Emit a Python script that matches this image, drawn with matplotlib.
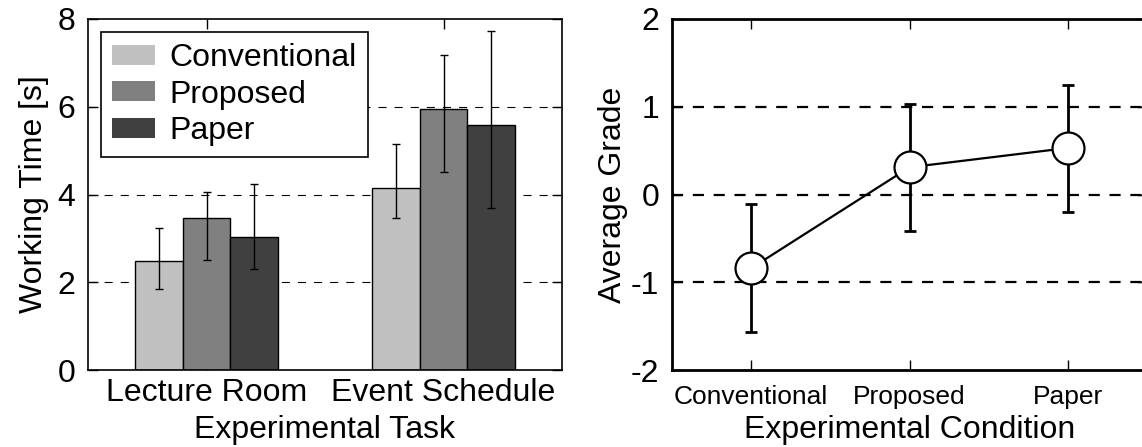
import numpy as np
import matplotlib as mpl
import matplotlib.pyplot as plt
from matplotlib.patches import Patch

mpl.rcParams.update({
    "font.family": ["Liberation Sans", "DejaVu Sans"],
    "lines.scale_dashes": False,
    "axes.unicode_minus": False,
    "xtick.direction": "in",
    "ytick.direction": "in",
})

# left panel: working time per task
tasks = ["Lecture Room", "Event Schedule"]
methods = ["Conventional", "Proposed", "Paper"]
work_mean = {
    "Conventional": [2.49, 4.15],
    "Proposed": [3.47, 5.95],
    "Paper": [3.02, 5.58],
}
work_lo = {
    "Conventional": [1.85, 3.46],
    "Proposed": [2.50, 4.52],
    "Paper": [2.31, 3.70],
}
work_hi = {
    "Conventional": [3.24, 5.14],
    "Proposed": [4.05, 7.18],
    "Paper": [4.24, 7.73],
}
bar_colors = ["#c0c0c0", "#808080", "#404040"]

# right panel: average grade per condition
conditions = ["Conventional", "Proposed", "Paper"]
grade_mean = [-0.84, 0.31, 0.53]
grade_lo = [-1.57, -0.42, -0.20]
grade_hi = [-0.11, 1.03, 1.25]

W, H = 1142, 447
fig = plt.figure(figsize=(W / 100, H / 100), dpi=100)

def box(x0, y0, x1, y1):
    # pixel box -> figure fraction
    return [x0 / W, (H - y1) / H, (x1 - x0) / W, (y1 - y0) / H]

ax1 = fig.add_axes(box(88, 19, 562, 370))
ax2 = fig.add_axes(box(672, 19, 1147, 370))

# ---- left: grouped bars
x = np.arange(len(tasks))
width = 0.2
for i, m in enumerate(methods):
    pos = x + (i - 1) * width
    mean = np.array(work_mean[m])
    yerr = [mean - np.array(work_lo[m]), np.array(work_hi[m]) - mean]
    ax1.bar(pos, mean, width, color=bar_colors[i], edgecolor="black", linewidth=1, zorder=2)
    ax1.errorbar(pos, mean, yerr=yerr, fmt="none", ecolor="black", elinewidth=1,
                 capsize=3.2, capthick=1, zorder=3)

for yv in [2, 4, 6]:
    ax1.axhline(yv, color="black", lw=0.8, ls=(0, (5.8, 5.8)), zorder=1)

ax1.set_xlim(-0.5, 1.5)
ax1.set_ylim(0, 8)
ax1.set_xticks(x)
ax1.set_xticklabels(tasks)
ax1.set_yticks([0, 2, 4, 6, 8])
ax1.tick_params(axis="x", labelsize=23, pad=6)
ax1.tick_params(axis="y", labelsize=23, pad=9)
ax1.tick_params(axis="both", length=7, width=1, top=True, right=True)
ax1.set_xlabel("Experimental Task", fontsize=23, labelpad=5)
ax1.set_ylabel("Working Time [s]", fontsize=23, labelpad=6)
for sp in ax1.spines.values():
    sp.set_linewidth(1.2)

handles = [Patch(facecolor=c, edgecolor="none") for c in bar_colors]
leg = ax1.legend(handles, methods, loc="upper left", bbox_to_anchor=(0.027, 0.963),
                 borderaxespad=0, fontsize=23, fancybox=False, framealpha=1,
                 edgecolor="black", handlelength=1.35, handleheight=0.6,
                 handletextpad=0.45, labelspacing=0.2, borderpad=0.35)
leg.get_frame().set_linewidth(1.2)

# ---- right: mean grade with error bars
xc = np.arange(len(conditions))
gm = np.array(grade_mean)
gerr = [gm - np.array(grade_lo), np.array(grade_hi) - gm]
ax2.errorbar(xc, gm, yerr=gerr, fmt="none", ecolor="black", elinewidth=2,
             capsize=4.5, capthick=2, zorder=3)
ax2.plot(xc, gm, "-o", color="black", lw=1.6, markersize=23, markerfacecolor="white",
         markeredgecolor="black", markeredgewidth=1.6, zorder=4)

for yv in [-1, 0, 1]:
    ax2.axhline(yv, color="black", lw=1.6, ls=(0, (8, 7)), zorder=1)

ax2.set_xlim(-0.5, 2.5)
ax2.set_ylim(-2, 2)
ax2.set_xticks(xc)
ax2.set_xticklabels(conditions)
ax2.set_yticks([-2, -1, 0, 1, 2])
ax2.tick_params(axis="x", labelsize=19, pad=11)
ax2.tick_params(axis="y", labelsize=23, pad=9)
ax2.tick_params(axis="both", length=7, width=1, top=True, right=True)
ax2.set_xlabel("Experimental Condition", fontsize=23, labelpad=4)
ax2.set_ylabel("Average Grade", fontsize=23, labelpad=2)
for sp in ax2.spines.values():
    sp.set_linewidth(2)

fig.savefig("out.png", dpi=100)
